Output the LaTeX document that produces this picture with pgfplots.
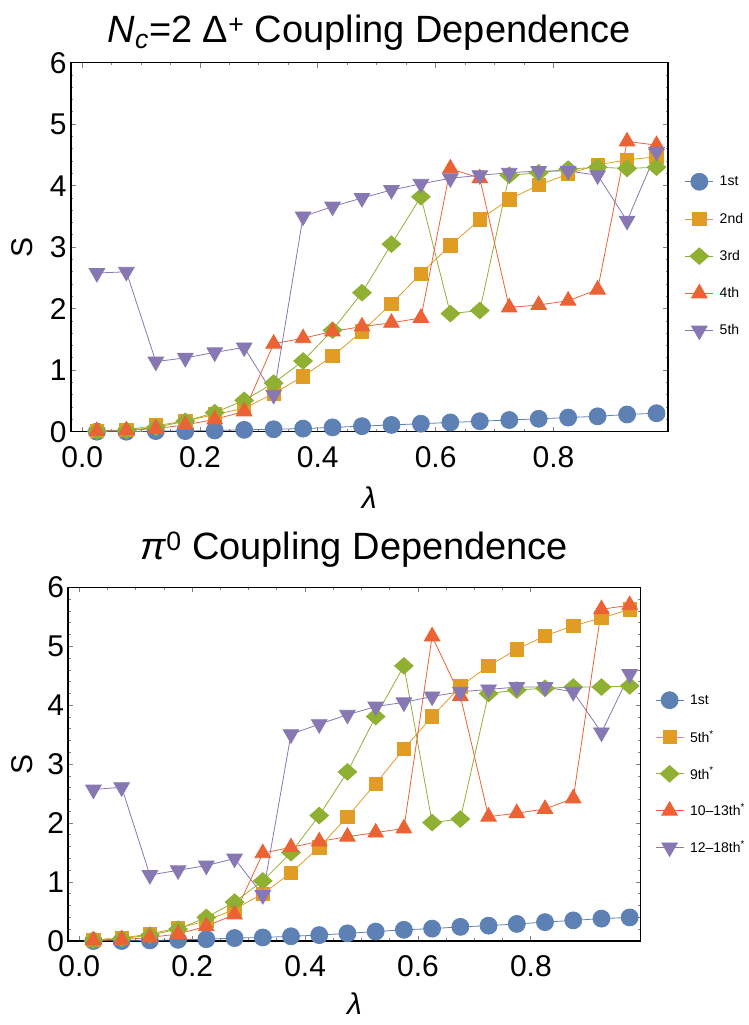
\documentclass[border=0pt]{standalone}
\usepackage{fontspec}
\setmainfont{Liberation Sans}
\usepackage{pgfplots}
\usepackage{pgfplotstable}
\pgfplotsset{compat=1.18}

\definecolor{mblue}{RGB}{94,129,181}
\definecolor{morange}{RGB}{225,156,36}
\definecolor{mgreen}{RGB}{143,176,50}
\definecolor{mred}{RGB}{235,98,53}
\definecolor{mpurple}{RGB}{135,120,179}

\newcommand\tickfont{\fontsize{30bp}{34bp}\selectfont}
\newcommand\labfont{\fontsize{30bp}{34bp}\selectfont}
\newcommand\titfont{\fontsize{38bp}{42bp}\selectfont}
\newcommand\legfont{\fontsize{14bp}{16bp}\selectfont}

% columns: x, 1st, 2nd, 3rd, 4th, 5th
\pgfplotstableread{
x     b    o    g    r    p
0.025 0.00 0.01 0.01 0.01 2.58
0.075 0.00 0.03 0.02 0.02 2.60
0.125 0.01 0.10 0.07 0.05 1.14
0.175 0.01 0.17 0.17 0.11 1.20
0.225 0.02 0.28 0.31 0.20 1.29
0.275 0.03 0.38 0.51 0.33 1.37
0.325 0.04 0.62 0.79 1.43 0.60
0.375 0.05 0.90 1.15 1.52 3.50
0.425 0.07 1.23 1.65 1.63 3.66
0.475 0.09 1.63 2.26 1.71 3.80
0.525 0.11 2.08 3.05 1.77 3.93
0.575 0.13 2.57 3.82 1.85 4.03
0.625 0.15 3.03 1.92 4.28 4.12
0.675 0.17 3.45 1.97 4.12 4.17
0.725 0.19 3.78 4.17 2.02 4.21
0.775 0.21 4.01 4.21 2.06 4.24
0.825 0.23 4.19 4.27 2.13 4.24
0.875 0.25 4.34 4.30 2.31 4.17
0.925 0.28 4.42 4.28 4.72 3.43
0.975 0.30 4.47 4.30 4.66 4.55
}\deltatable

\pgfplotstableread{
x     b    o    g    r    p
0.025 0.00 0.02 0.01 0.01 2.57
0.075 0.00 0.05 0.04 0.02 2.61
0.125 0.01 0.12 0.10 0.06 1.12
0.175 0.02 0.22 0.20 0.12 1.20
0.225 0.03 0.34 0.40 0.25 1.28
0.275 0.05 0.54 0.66 0.45 1.40
0.325 0.06 0.80 1.02 1.49 0.78
0.375 0.08 1.16 1.50 1.59 3.51
0.425 0.10 1.59 2.13 1.69 3.68
0.475 0.13 2.11 2.87 1.77 3.84
0.525 0.16 2.67 3.81 1.84 3.98
0.575 0.19 3.26 4.67 1.91 4.05
0.625 0.21 3.81 2.01 5.17 4.15
0.675 0.24 4.32 2.07 4.16 4.23
0.725 0.26 4.67 4.20 2.11 4.27
0.775 0.29 4.95 4.26 2.17 4.31
0.825 0.32 5.18 4.29 2.24 4.31
0.875 0.35 5.35 4.31 2.42 4.23
0.925 0.38 5.48 4.31 5.63 3.54
0.975 0.40 5.63 4.33 5.70 4.53
}\pitable

\pgfplotsset{
  mframe/.style={
    scale only axis,
    anchor=south west,
    xmin=-0.0195, xmax=0.9945, ymin=0, ymax=6,
    xtick={0,0.2,0.4,0.6,0.8}, ytick={0,1,2,3,4,5,6},
    minor x tick num=3, minor y tick num=4,
    tick align=inside, tick pos=both,
    xticklabel pos=lower, yticklabel pos=left,
    major tick length=5bp, minor tick length=2.5bp,
    every tick/.style={color=gray, line width=0.9bp},
    axis line style={line width=1.6bp, black},
    /pgf/number format/assume math mode=true,
    xticklabel style={font=\tickfont, inner sep=0pt, anchor=north, yshift=-14.5bp,
      /pgf/number format/fixed, /pgf/number format/fixed zerofill, /pgf/number format/precision=1},
    yticklabel style={font=\tickfont, inner sep=0pt, anchor=east, xshift=-4bp},
    ylabel={S},
    ylabel style={font=\labfont, anchor=center, inner sep=0pt},
    xlabel={\itshape λ},
    xlabel style={font=\labfont, at={(axis description cs:0.5,0)}, anchor=north, inner sep=0pt},
    title style={font=\titfont, at={(axis description cs:0.5,1)}, anchor=base, inner sep=0pt},
    legend cell align=left,
    legend image code/.code={%
      \path[draw=none, fill=none] (0bp,-10bp) rectangle (28bp,10bp);
      \draw[mark repeat=2,mark phase=2,#1] plot coordinates {(0bp,0bp) (14bp,0bp) (28bp,0bp)};},
    legend style={draw=none, fill=none, font=\legfont, anchor=north west,
      row sep=17.2bp, column sep=5bp, inner sep=0pt, nodes={inner sep=1bp}},
  },
  sb/.style={mblue, line width=0.8bp, mark=*, mark size=8.5bp, mark options={solid, fill=mblue, draw=mblue}},
  so/.style={morange, line width=0.8bp, mark=square*, mark size=6.7bp, mark options={solid, fill=morange, draw=morange}},
  sg/.style={mgreen, line width=0.8bp, mark=diamond*, mark size=8.3bp, mark options={solid, fill=mgreen, draw=mgreen, xscale=1.5}},
  sr/.style={mred, line width=0.8bp, mark=triangle*, mark size=9bp, mark options={solid, fill=mred, draw=mred}},
  sp/.style={mpurple, line width=0.8bp, mark=triangle*, mark size=9bp, mark options={solid, fill=mpurple, draw=mpurple, rotate=180}},
}

\begin{document}
\begin{tikzpicture}
\path[use as bounding box] (0,0) rectangle (749bp,1025bp);

\begin{axis}[mframe,
  at={(70.7bp,593.3bp)}, width=597.3bp, height=369bp,
  xlabel style={yshift=-54.7bp},
  ylabel style={at={(axis description cs:-0.0815,0.5)}},
  title style={yshift=14bp},
  title={{\itshape N}\textsubscript{\itshape c}=2 Δ\textsuperscript{+} Coupling Dependence},
  legend style={at={(1.028,0.705)}},
]
\addplot[sb] table[x=x,y=b] {\deltatable};
\addplot[so] table[x=x,y=o] {\deltatable};
\addplot[sg] table[x=x,y=g] {\deltatable};
\addplot[sr] table[x=x,y=r] {\deltatable};
\addplot[sp] table[x=x,y=p] {\deltatable};
\legend{1st,2nd,3rd,4th,5th}
\end{axis}

\begin{axis}[mframe,
  at={(68.3bp,84bp)}, width=572.4bp, height=353.5bp,
  xlabel style={yshift=-52bp},
  ylabel style={at={(axis description cs:-0.081,0.5)}},
  title style={yshift=22bp},
  title={{\itshape π}\textsuperscript{0} Coupling Dependence},
  legend style={at={(1.025,0.71)}, row sep=16.8bp},
]
\addplot[sb] table[x=x,y=b] {\pitable};
\addplot[so] table[x=x,y=o] {\pitable};
\addplot[sg] table[x=x,y=g] {\pitable};
\addplot[sr] table[x=x,y=r] {\pitable};
\addplot[sp] table[x=x,y=p] {\pitable};
\legend{1st,5th\textsuperscript{*},9th\textsuperscript{*},10–13th\textsuperscript{*},12–18th\textsuperscript{*}}
\end{axis}
\end{tikzpicture}
\end{document}
